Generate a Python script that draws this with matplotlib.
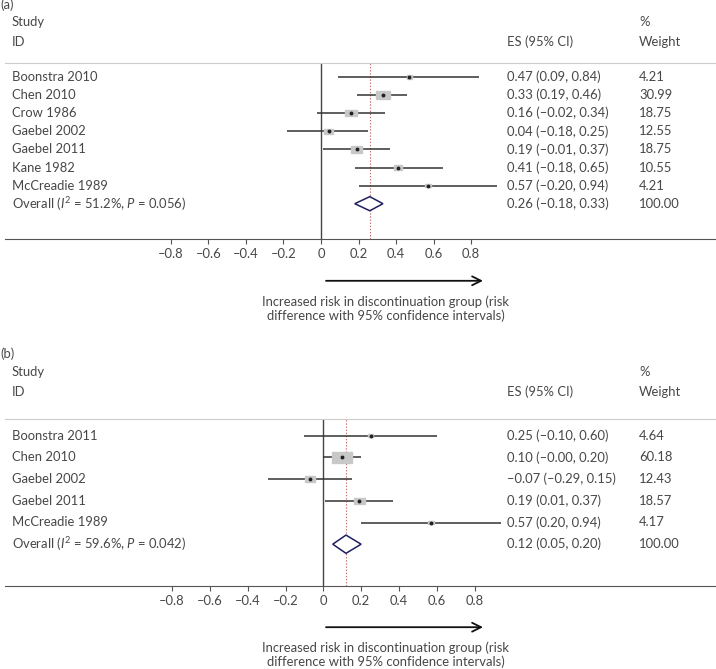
import matplotlib
matplotlib.use("Agg")
import matplotlib.pyplot as plt
import matplotlib.transforms as mtransforms
from matplotlib.patches import Rectangle, Polygon

plt.rcParams['font.family'] = ['Lato', 'DejaVu Sans']
plt.rcParams['mathtext.fontset'] = 'custom'
plt.rcParams['mathtext.rm'] = 'Lato'
plt.rcParams['mathtext.it'] = 'Lato:italic'

# panel (a) data
studies_a = ['Boonstra 2010', 'Chen 2010', 'Crow 1986', 'Gaebel 2002',
             'Gaebel 2011', 'Kane 1982', 'McCreadie 1989']
es_a = [0.47, 0.33, 0.16, 0.04, 0.19, 0.41, 0.57]
lo_a = [0.09, 0.19, -0.02, -0.18, 0.01, 0.18, 0.20]
hi_a = [0.84, 0.46, 0.34, 0.25, 0.37, 0.65, 0.94]
w_a = [4.21, 30.99, 18.75, 12.55, 18.75, 10.55, 4.21]
es_text_a = ['0.47 (0.09, 0.84)', '0.33 (0.19, 0.46)', '0.16 (\u20130.02, 0.34)',
             '0.04 (\u20130.18, 0.25)', '0.19 (\u20130.01, 0.37)', '0.41 (\u20130.18, 0.65)',
             '0.57 (\u20130.20, 0.94)', '0.26 (\u20130.18, 0.33)']
w_text_a = ['4.21', '30.99', '18.75', '12.55', '18.75', '10.55', '4.21', '100.00']
overall_a = (0.26, 0.18, 0.33)
overall_label_a = 'Overall ($I^2$ = 51.2%, $P$ = 0.056)'

# panel (b) data
studies_b = ['Boonstra 2011', 'Chen 2010', 'Gaebel 2002', 'Gaebel 2011', 'McCreadie 1989']
es_b = [0.25, 0.10, -0.07, 0.19, 0.57]
lo_b = [-0.10, -0.00, -0.29, 0.01, 0.20]
hi_b = [0.60, 0.20, 0.15, 0.37, 0.94]
w_b = [4.64, 60.18, 12.43, 18.57, 4.17]
es_text_b = ['0.25 (\u20130.10, 0.60)', '0.10 (\u20130.00, 0.20)', '\u20130.07 (\u20130.29, 0.15)',
             '0.19 (0.01, 0.37)', '0.57 (0.20, 0.94)', '0.12 (0.05, 0.20)']
w_text_b = ['4.64', '60.18', '12.43', '18.57', '4.17', '100.00']
overall_b = (0.12, 0.05, 0.20)
overall_label_b = 'Overall ($I^2$ = 59.6%, $P$ = 0.042)'

ticks = [-0.8, -0.6, -0.4, -0.2, 0, 0.2, 0.4, 0.6, 0.8]
tick_labels = ['\u20130.8', '\u20130.6', '\u20130.4', '\u20130.2', '0', '0.2', '0.4', '0.6', '0.8']
xlabel = 'Increased risk in discontinuation group (risk\ndifference with 95% confidence intervals)'

W, H = 716, 669
TXT = '#474747'
FS = 9.4

fig = plt.figure(figsize=(W / 100, H / 100), dpi=100)


def panel(tag, studies, es, lo, hi, w, es_text, w_text, overall, overall_label,
          top, bottom, zero_px, px_unit, row0, row_step, hdr_y, diam_h):
    ax = fig.add_axes([5 / W, 1 - bottom / H, 1 - 5 / W, (bottom - top) / H])
    ax.set_xlim((5 - zero_px) / px_unit, (W - zero_px) / px_unit)
    n = len(studies) + 1
    ax.set_ylim((bottom - row0) / row_step, (top - row0) / row_step)
    for s in ['left', 'right']:
        ax.spines[s].set_visible(False)
    ax.spines['top'].set_color('#cccccc')
    ax.spines['bottom'].set_color('#555555')
    ax.set_yticks([])
    ax.set_xticks(ticks)
    ax.set_xticklabels(tick_labels)
    ax.tick_params(axis='x', direction='out', length=3.5, color='#555555',
                   labelsize=FS, labelcolor=TXT, pad=3)

    ax.axvline(0, color='#444444', lw=1)
    ax.axvline(overall[0], color='#c66a6a', lw=0.8, ls=(0, (1.2, 1.6)))

    # box sizes: area proportional to weight, stretched like the original
    for i in range(len(studies)):
        ax.plot([lo[i], hi[i]], [i, i], color='#333333', lw=1.1, solid_capstyle='butt')
        area = 3.95 * w[i]
        bw = (area * 1.75) ** 0.5
        bh = bw / 1.75
        ax.add_patch(Rectangle((es[i] - bw / 2 / px_unit, i - bh / 2 / row_step),
                               bw / px_unit, bh / row_step, color='#c8c8c8', zorder=3))
        ax.plot(es[i], i, 'o', color='#222222', ms=1.8, zorder=4)

    yo = n - 1
    ax.add_patch(Polygon([(overall[1], yo), (overall[0], yo - diam_h),
                          (overall[2], yo), (overall[0], yo + diam_h)],
                         closed=True, facecolor='white', edgecolor='#1f1f5f', lw=1.1, zorder=4))

    tr = mtransforms.blended_transform_factory(fig.transFigure, ax.transData)
    labels = studies + [overall_label]
    for i in range(n):
        fig.text(12 / W, i, labels[i], transform=tr, va='center', fontsize=FS, color=TXT)
        fig.text(507 / W, i, es_text[i], transform=tr, va='center', fontsize=FS, color=TXT)
        fig.text(639 / W, i, w_text[i], transform=tr, va='center', fontsize=FS, color=TXT)

    fig.text(0, 1 - hdr_y[0] / H, tag, va='center', fontsize=FS, color=TXT)
    fig.text(12 / W, 1 - hdr_y[1] / H, 'Study', va='center', fontsize=FS, color=TXT)
    fig.text(12 / W, 1 - hdr_y[2] / H, 'ID', va='center', fontsize=FS, color=TXT)
    fig.text(639 / W, 1 - hdr_y[1] / H, '%', va='center', fontsize=FS, color=TXT)
    fig.text(639 / W, 1 - hdr_y[2] / H, 'Weight', va='center', fontsize=FS, color=TXT)
    fig.text(507 / W, 1 - hdr_y[2] / H, 'ES (95% CI)', va='center', fontsize=FS, color=TXT)

    # direction arrow and caption under the axis
    tra = mtransforms.blended_transform_factory(ax.transData, fig.transFigure)
    ay = 1 - (bottom + 41.5) / H
    ax.annotate('', xy=((483 - zero_px) / px_unit, ay), xytext=((326 - zero_px) / px_unit, ay),
                xycoords=tra, textcoords=tra, annotation_clip=False,
                arrowprops=dict(arrowstyle='->', color='#111111', lw=1.3,
                                mutation_scale=16, shrinkA=0, shrinkB=0))
    fig.text(386 / W, 1 - (bottom + 62) / H, xlabel.split('\n')[0], ha='center', va='center',
             fontsize=FS, color=TXT)
    fig.text(386 / W, 1 - (bottom + 76.5) / H, xlabel.split('\n')[1], ha='center', va='center',
             fontsize=FS, color=TXT)
    return ax


panel('(a)', studies_a, es_a, lo_a, hi_a, w_a, es_text_a, w_text_a, overall_a, overall_label_a,
      top=63, bottom=239.3, zero_px=321, px_unit=187.7, row0=77, row_step=18.1,
      hdr_y=(5, 21.7, 41.7), diam_h=0.39)
panel('(b)', studies_b, es_b, lo_b, hi_b, w_b, es_text_b, w_text_b, overall_b, overall_label_b,
      top=419.3, bottom=585.7, zero_px=323.3, px_unit=189, row0=435.7, row_step=21.7,
      hdr_y=(353.3, 371.7, 391.7), diam_h=0.42)

fig.savefig('out.png', dpi=100)
